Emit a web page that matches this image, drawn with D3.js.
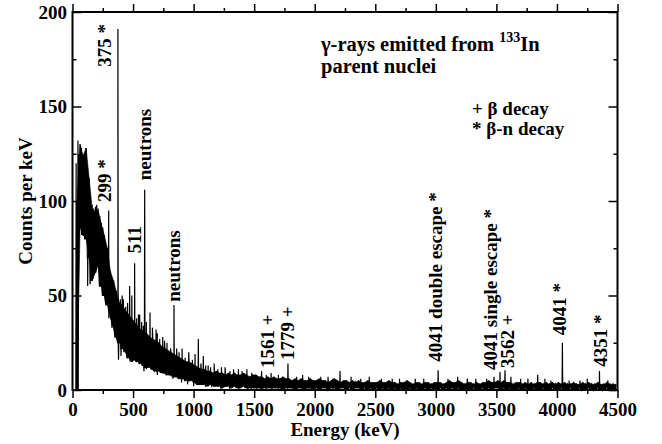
<!DOCTYPE html>
<html>
<head>
<meta charset="utf-8">
<script src="https://cdn.jsdelivr.net/npm/d3@7"></script>
<style>
  html, body { margin: 0; padding: 0; background: #fff; }
  svg { display: block; }
  text { font-family: "Liberation Serif", "Times New Roman", Times, serif; fill: #000; }
</style>
</head>
<body>
<svg id="chart" width="662" height="444"></svg>
<script>
// ---------------- data ----------------
const binWidth = 25; // keV per envelope bin, starting at 0 keV
// upper envelope of the noisy spectrum (counts per keV), one value per bin
const hiCounts = [
  0, 100, 130, 124, 128, 112, 96, 94, 95, 88, 82, 75, 63, 58, 52, 46, 45, 42, 40, 38,
  36, 34, 32, 31, 30, 28, 27, 26, 25, 23, 22, 21, 20, 19, 18, 17, 16, 15, 15, 14,
  13, 12, 11, 11, 10, 10, 9, 10, 9, 9, 8, 9, 8, 9, 8, 8, 9, 8, 7, 8,
  8, 7, 7, 6, 7, 6, 7, 6, 6, 7, 6, 6, 5, 6, 5, 6, 5, 5, 6, 5,
  5, 6, 5, 5, 4, 5, 6, 5, 4, 5, 5, 4, 5, 4, 5, 4, 4, 5, 4, 4,
  4, 5, 4, 4, 5, 4, 4, 3, 4, 4, 5, 4, 3, 4, 4, 3, 4, 4, 3, 4,
  4, 4, 3, 4, 5, 4, 4, 5, 4, 3, 4, 4, 3, 4, 3, 4, 4, 5, 4, 4,
  5, 4, 5, 4, 4, 3, 4, 4, 3, 4, 3, 4, 3, 4, 4, 3, 4, 3, 4, 3,
  4, 3, 4, 3, 3, 4, 3, 3, 4, 3, 4, 3, 3, 4, 3, 3, 4, 3, 3, 3
];
// lower envelope of the noisy spectrum
const loCounts = [
  0, 0, 86, 82, 80, 70, 58, 62, 66, 55, 50, 45, 38, 33, 28, 25, 22, 20, 17, 15,
  16, 15, 14, 13, 12, 12, 11, 10, 10, 9, 9, 8, 8, 7, 7, 6, 6, 5, 5, 5,
  4, 3, 3, 3, 2, 3, 2, 2, 2, 1, 2, 2, 1, 2, 1, 1, 2, 1, 1, 1,
  1, 1, 1, 1, 1, 1, 1, 1, 1, 0, 1, 1, 1, 0, 1, 1, 0, 1, 1, 0,
  1, 0, 1, 1, 0, 1, 1, 0, 1, 1, 0, 1, 0, 1, 1, 0, 1, 0, 1, 0,
  1, 0, 1, 0, 1, 0, 1, 0, 1, 0, 0, 1, 0, 1, 0, 0, 1, 0, 1, 0,
  0, 1, 0, 1, 0, 1, 0, 1, 0, 0, 1, 0, 1, 0, 0, 1, 0, 1, 0, 1,
  1, 0, 1, 0, 1, 0, 0, 1, 0, 1, 0, 0, 1, 0, 0, 1, 0, 0, 1, 0,
  0, 1, 0, 0, 1, 0, 0, 1, 0, 0, 1, 0, 0, 1, 0, 0, 1, 0, 0, 0
];
// narrow peaks / upward spikes (keV) and their heights (counts per keV)
const peakEnergy = [30, 45, 52, 58, 65, 73, 82, 88, 97, 108, 118, 135, 150, 162, 175, 190,
  200, 212, 225, 238, 250, 262, 280,
  299, 320, 340, 360, 375, 395, 410, 420, 440, 455, 472, 490, 513, 530, 545, 555, 571,
  585, 596, 610, 640, 660, 690, 700, 720, 745, 760, 780, 810, 838, 860, 880, 905, 930,
  960, 990, 1012, 1039, 1060, 1080, 1100, 1120, 1140, 1170, 1200, 1230, 1260, 1300,
  1330, 1370, 1400, 1440, 1480, 1520, 1561, 1600, 1640, 1700, 1779, 1850, 1900, 1950,
  2050, 2110, 2150, 2209, 2300, 2380, 2450, 2550, 2640, 2700, 2830, 2900, 3019, 3100,
  3180, 3260, 3330, 3420, 3480, 3530, 3571, 3620, 3700, 3760, 3841, 3900, 3950, 4045,
  4100, 4190, 4250, 4351, 4420];
const peakHeight = [120, 132, 125, 118, 112, 128, 118, 122, 110, 118, 105, 100, 92, 98, 96, 97,
  98, 96, 92, 88, 86, 80, 72,
  95, 60, 58, 52, 191, 48, 50, 48, 44, 46, 55, 50, 67, 38, 40, 40, 36,
  34, 106, 36, 41, 33, 32, 30, 27, 28, 26, 25, 22, 45, 22, 20, 22, 17,
  20, 16, 19, 27, 14, 18, 13, 13, 12, 14, 11, 12, 12, 10,
  11, 11, 10, 11, 9, 8, 10, 8, 9, 8, 14, 7, 8, 7,
  7, 7, 6, 10, 7, 6, 7, 6, 6, 6, 6, 6, 10.5, 6,
  7, 6, 6, 6, 7, 9.5, 10.5, 7, 6, 6, 8, 6, 5, 25,
  5, 5, 6, 10, 5];
// downward dips below the lower envelope (keV) and their depth (counts per keV)
const dipEnergy = [125, 145, 380, 400, 590, 610, 700, 830, 900, 950, 1000];
const dipCount = [55, 56, 16, 18, 10, 11, 8, 6, 4, 3, 2];

// peak annotations (vertical text): text, energy and count where the text starts
const labelText = ["375 *", "299 *", "neutrons", "511", "neutrons", "1561 +", "1779 +",
  "4041 double escape *", "4041 single escape *", "3562 +", "4041 *", "4351 *"];
const labelEnergy = [318, 322, 648, 563, 888, 1660, 1825, 3050, 3509, 3645, 4075, 4413];
const labelCount = [171, 99.5, 111, 72.3, 46.7, 11.6, 15.9, 15, 10.6, 11.6, 29, 12.3];

const xMajorTicks = [0, 500, 1000, 1500, 2000, 2500, 3000, 3500, 4000, 4500];
const xMinorTicks = [250, 750, 1250, 1750, 2250, 2750, 3250, 3750, 4250];
const yMajorTicks = [0, 50, 100, 150, 200];
const yMinorTicks = [25, 75, 125, 175];

const titleLine1 = "γ-rays emitted from ";
const titleSup = "133";
const titleEl = "In";
const titleLine2 = "parent nuclei";
const legendLines = ["+ β decay", "* β-n decay"];
const xTitle = "Energy (keV)";
const yTitle = "Counts per keV";

// ---------------- drawing ----------------
const svg = d3.select("#chart");
const pL = 72.5, pR = 617.5, pT = 12, pB = 390;
const x = d3.scaleLinear().domain([0, 4500]).range([pL, pR]);
const y = d3.scaleLinear().domain([0, 200]).range([pB, pT]);

// noise band (area between lower and upper envelope)
const bins = hiCounts.map((h, i) => ({e: i * binWidth + binWidth / 2, lo: loCounts[i], hi: h}));
const area = d3.area().x(d => x(d.e)).y0(d => y(d.lo)).y1(d => y(d.hi));
svg.append("path")
  .datum(bins.slice(1))
  .attr("d", area)
  .attr("fill", "#000")
  .attr("stroke", "#000")
  .attr("stroke-width", 0.6);

// spectrum trace with spikes and dips
const binIndex = e => Math.min(loCounts.length - 1, Math.floor(e / binWidth));
const pts = [];
hiCounts.forEach((h, i) => {
  const e = i * binWidth;
  pts.push({e: e, c: loCounts[i]});
  pts.push({e: e + binWidth / 2, c: h});
});
peakEnergy.forEach((pe, i) => {
  const base = loCounts[binIndex(pe)];
  pts.push({e: pe - 2.5, c: base});
  pts.push({e: pe, c: peakHeight[i]});
  pts.push({e: pe + 2.5, c: base});
});
dipEnergy.forEach((de, i) => {
  const base = loCounts[binIndex(de)];
  pts.push({e: de - 2.5, c: base});
  pts.push({e: de, c: dipCount[i]});
  pts.push({e: de + 2.5, c: base});
});
pts.sort((a, b) => a.e - b.e);

const line = d3.line().x(d => x(d.e)).y(d => y(d.c));
svg.append("path")
  .datum(pts)
  .attr("d", line)
  .attr("fill", "none")
  .attr("stroke", "#000")
  .attr("stroke-width", 1.2)
  .attr("stroke-linejoin", "miter");

// axes
function styleAxis(g) {
  g.select(".domain").remove();
  g.selectAll(".tick line").attr("stroke", "#000").attr("stroke-width", 1.5);
  g.selectAll(".tick text")
    .style("font-family", "'Liberation Serif', 'Times New Roman', serif")
    .style("font-weight", "bold")
    .style("font-size", "19px")
    .attr("fill", "#000");
}
function noText(g) { g.selectAll("text").remove(); }
// bottom (outward ticks)
svg.append("g").attr("transform", `translate(0,${pB})`)
  .call(d3.axisBottom(x).tickValues(xMajorTicks).tickSize(8).tickPadding(5).tickFormat(d3.format("d")))
  .call(styleAxis);
svg.append("g").attr("transform", `translate(0,${pB})`)
  .call(d3.axisBottom(x).tickValues(xMinorTicks).tickSize(4))
  .call(styleAxis).call(noText);
// top (outward ticks)
svg.append("g").attr("transform", `translate(0,${pT})`)
  .call(d3.axisTop(x).tickValues(xMajorTicks).tickSize(8))
  .call(styleAxis).call(noText);
svg.append("g").attr("transform", `translate(0,${pT})`)
  .call(d3.axisTop(x).tickValues(xMinorTicks).tickSize(4))
  .call(styleAxis).call(noText);
// left (inward ticks)
const gl = svg.append("g").attr("transform", `translate(${pL},0)`)
  .call(d3.axisLeft(y).tickValues(yMajorTicks).tickSize(-9).tickPadding(5).tickFormat(d3.format("d")))
  .call(styleAxis);
gl.selectAll(".tick text").attr("x", -5.5);
svg.append("g").attr("transform", `translate(${pL},0)`)
  .call(d3.axisLeft(y).tickValues(yMinorTicks).tickSize(-4))
  .call(styleAxis).call(noText);
// right (inward ticks)
svg.append("g").attr("transform", `translate(${pR},0)`)
  .call(d3.axisRight(y).tickValues(yMajorTicks).tickSize(-9))
  .call(styleAxis).call(noText);
svg.append("g").attr("transform", `translate(${pR},0)`)
  .call(d3.axisRight(y).tickValues(yMinorTicks).tickSize(-4))
  .call(styleAxis).call(noText);

// frame
svg.append("rect")
  .attr("x", pL).attr("y", pT)
  .attr("width", pR - pL).attr("height", pB - pT)
  .attr("fill", "none").attr("stroke", "#000").attr("stroke-width", 2);

// axis titles
svg.append("text")
  .attr("x", (pL + pR) / 2).attr("y", 436)
  .attr("text-anchor", "middle")
  .style("font-weight", "bold").style("font-size", "19px")
  .text(xTitle);
svg.append("text")
  .attr("transform", `translate(32,${(pT + pB) / 2}) rotate(-90)`)
  .attr("text-anchor", "middle")
  .style("font-weight", "bold").style("font-size", "19px")
  .text(yTitle);

// peak labels
labelText.forEach((t, i) => {
  svg.append("text")
    .attr("transform", `translate(${x(labelEnergy[i])},${y(labelCount[i])}) rotate(-90)`)
    .attr("text-anchor", "start")
    .style("font-weight", "bold").style("font-size", "19px")
    .text(t);
});

// title
const tt = svg.append("text")
  .attr("x", 321).attr("y", 51)
  .style("font-weight", "bold").style("font-size", "20.5px");
tt.append("tspan").text(titleLine1);
tt.append("tspan").attr("dy", -9).style("font-size", "14px").text(titleSup);
tt.append("tspan").attr("dy", 9).text(titleEl);
svg.append("text")
  .attr("x", 321).attr("y", 73)
  .style("font-weight", "bold").style("font-size", "20.5px")
  .text(titleLine2);

// legend
legendLines.forEach((t, i) => {
  svg.append("text")
    .attr("x", 472).attr("y", 115 + i * 20)
    .style("font-weight", "bold").style("font-size", "19px")
    .text(t);
});
</script>
</body>
</html>
